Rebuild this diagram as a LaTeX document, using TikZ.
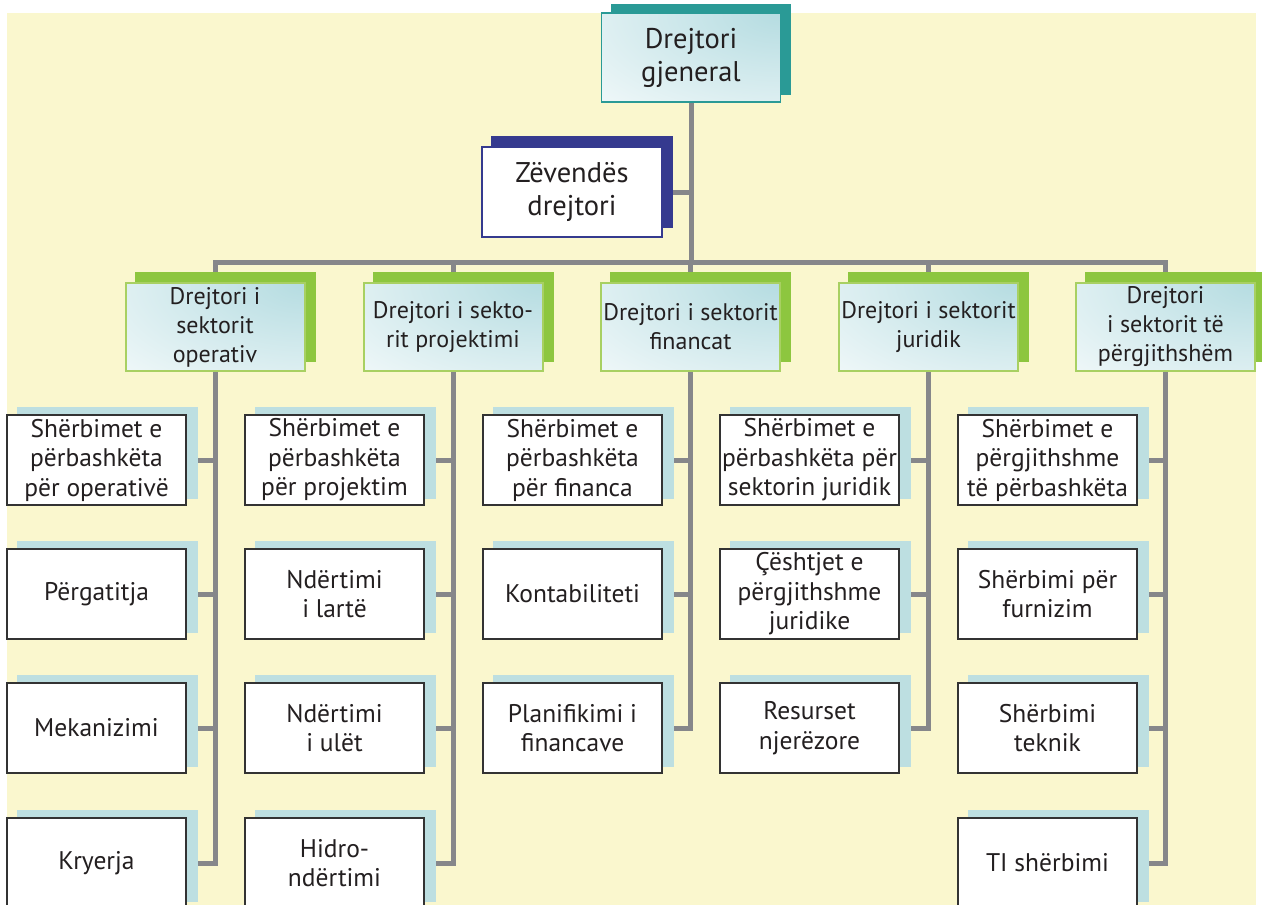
\documentclass[tikz,border=0pt]{standalone}
\usepackage{fontspec}
\setmainfont{PT Sans}
\usetikzlibrary{calc}
\definecolor{paper}{HTML}{FAF7CE}
\definecolor{ink}{HTML}{231F20}
\definecolor{wire}{HTML}{86878A}
\definecolor{teal}{HTML}{2A9A96}
\definecolor{navy}{HTML}{353A8F}
\definecolor{leaf}{HTML}{8DC63F}
\definecolor{leafline}{HTML}{A8D062}
\definecolor{mist}{HTML}{BDDFE1}
\definecolor{glowblue}{HTML}{B5DCE1}
\definecolor{frame}{HTML}{333333}
\pgfdeclarelayer{paperlayer}
\pgfdeclarelayer{wires}
\pgfdeclarelayer{shades}
\pgfsetlayers{paperlayer,wires,shades,main}
\tikzset{
  box/.style={minimum width=179pt, minimum height=89pt, inner sep=0pt,
    align=center, text=ink, font=\fontsize{24}{29}\selectfont},
  bigtext/.style={font=\fontsize{28.5}{33}\selectfont},
  glow/.style={path picture={
      \fill[white] (path picture bounding box.south west) rectangle (path picture bounding box.north east);
      \shade[inner color=glowblue, outer color=white]
        (path picture bounding box.north east) ellipse [x radius=320pt, y radius=165pt];}},
  headbox/.style={box, bigtext, draw=teal, line width=1.5pt, glow},
  deputybox/.style={box, bigtext, draw=navy, line width=1.5pt, fill=white},
  sectorbox/.style={box, minimum height=88pt, draw=leafline, line width=2pt, glow},
  unitbox/.style={box, minimum height=90pt, draw=frame, line width=1.8pt, fill=white,
    font=\fontsize{25.5}{29.5}\selectfont},
  wire/.style={draw=wire, line width=5pt}
}
\begin{document}
\begin{tikzpicture}[x=1pt, y=-1pt]
\useasboundingbox (0,0) rectangle (1262,905);
\clip (0,0) rectangle (1262,905);
\begin{pgfonlayer}{paperlayer}
  \fill[paper] (7,13) rectangle (1256,905);
\end{pgfonlayer}

% top management
\node[headbox] (gen) at (691,57.5) {Drejtori\\gjeneral};
\node[deputybox, minimum width=180pt, minimum height=90pt] (dep) at (572,192) {Zëvendës\\drejtori};

% sector directors
\node[sectorbox] (s1) at (215,327) {Drejtori i\\sektorit\\operativ};
\node[sectorbox] (s2) at (453,327) {Drejtori i sekto-\\rit projektimi};
\node[sectorbox] (s3) at (690.5,327) {Drejtori i sektorit\\financat};
\node[sectorbox] (s4) at (928.5,327) {Drejtori i sektorit\\juridik};
\node[sectorbox] (s5) at (1165.5,327) {Drejtori\\i sektorit të\\përgjithshëm};

% units, operative sector
\node[unitbox] (c11) at (96.5,460) {Shërbimet e\\përbashkëta\\për operativë};
\node[unitbox] (c12) at (96.5,594) {Përgatitja};
\node[unitbox] (c13) at (96.5,728) {Mekanizimi};
\node[unitbox] (c14) at (96.5,863) {Kryerja};
% units, design sector
\node[unitbox] (c21) at (334.5,460) {Shërbimet e\\përbashkëta\\për projektim};
\node[unitbox] (c22) at (334.5,594) {Ndërtimi\\i lartë};
\node[unitbox] (c23) at (334.5,728) {Ndërtimi\\i ulët};
\node[unitbox] (c24) at (334.5,863) {Hidro-\\ndërtimi};
% units, finance sector
\node[unitbox] (c31) at (572.5,460) {Shërbimet e\\përbashkëta\\për financa};
\node[unitbox] (c32) at (572.5,594) {Kontabiliteti};
\node[unitbox] (c33) at (572.5,728) {Planifikimi i\\financave};
% units, legal sector
\node[unitbox] (c41) at (809.5,460) {Shërbimet e\\përbashkëta për\\sektorin juridik};
\node[unitbox] (c42) at (809.5,594) {Çështjet e\\përgjithshme\\juridike};
\node[unitbox] (c43) at (809.5,728) {Resurset\\njerëzore};
% units, general sector
\node[unitbox] (c51) at (1047.5,460) {Shërbimet e\\përgjithshme\\të përbashkëta};
\node[unitbox] (c52) at (1047.5,594) {Shërbimi për\\furnizim};
\node[unitbox] (c53) at (1047.5,728) {Shërbimi\\teknik};
\node[unitbox] (c54) at (1047.5,863) {TI shërbimi};

% offset shadows behind the boxes
\begin{pgfonlayer}{shades}
  \fill[teal] ([xshift=10pt,yshift=8pt]gen.south west) rectangle ([xshift=10pt,yshift=8pt]gen.north east);
  \fill[navy] ([xshift=10pt,yshift=10pt]dep.south west) rectangle ([xshift=10pt,yshift=10pt]dep.north east);
  \foreach \n in {s1,s2,s3,s4,s5}
    \fill[leaf] ([xshift=10pt,yshift=10pt]\n.south west) rectangle ([xshift=10pt,yshift=10pt]\n.north east);
  \foreach \n in {c11,c12,c13,c14,c21,c22,c23,c24,c31,c32,c33,c41,c42,c43,c51,c52,c53,c54}
    \fill[mist] ([xshift=11pt,yshift=7pt]\n.south west) rectangle ([xshift=11pt,yshift=7pt]\n.north east);
\end{pgfonlayer}

% connectors
\begin{pgfonlayer}{wires}
  \coordinate (hub) at (690.5,262);
  \draw[wire] (gen.south) -- (gen.south |- hub);
  \draw[wire] (dep.east) -- (dep.east -| gen.south);
  \draw[wire] (s1.north) |- (s5.north |- hub) -- (s5.north);
  \foreach \n in {s2,s3,s4}
    \draw[wire] (\n.north) -- (\n.north |- hub);
  \draw[wire] (s1.south) |- (c14.east);
  \foreach \n in {c11,c12,c13} \draw[wire] (\n.east) -- (\n.east -| s1.south);
  \draw[wire] (s2.south) |- (c24.east);
  \foreach \n in {c21,c22,c23} \draw[wire] (\n.east) -- (\n.east -| s2.south);
  \draw[wire] (s3.south) |- (c33.east);
  \foreach \n in {c31,c32} \draw[wire] (\n.east) -- (\n.east -| s3.south);
  \draw[wire] (s4.south) |- (c43.east);
  \foreach \n in {c41,c42} \draw[wire] (\n.east) -- (\n.east -| s4.south);
  \draw[wire] (s5.south) |- (c54.east);
  \foreach \n in {c51,c52,c53} \draw[wire] (\n.east) -- (\n.east -| s5.south);
\end{pgfonlayer}
\end{tikzpicture}
\end{document}
